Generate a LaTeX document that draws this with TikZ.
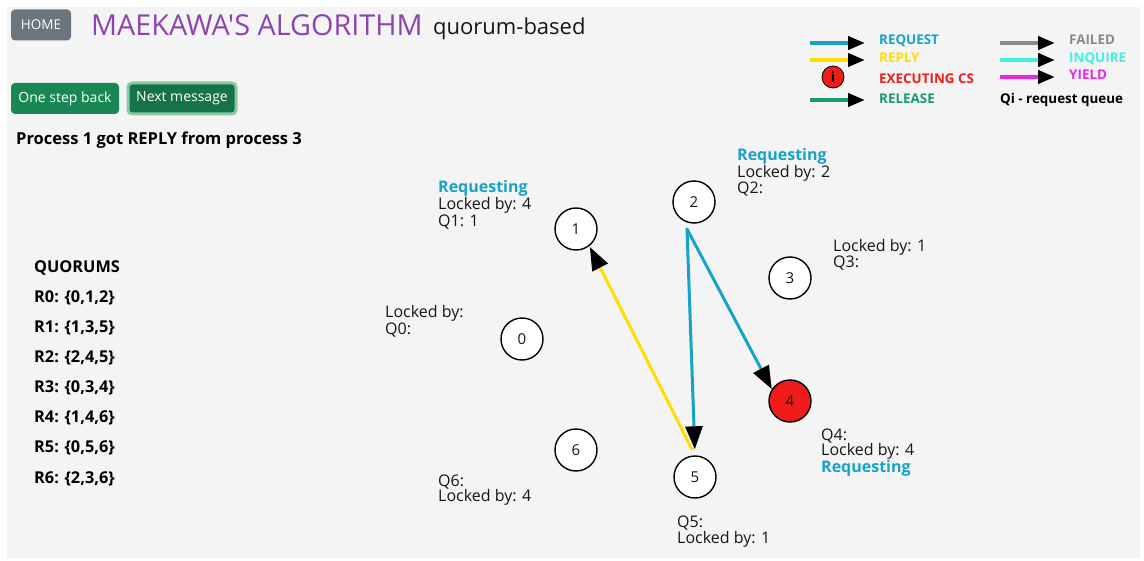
\documentclass[tikz,border=0pt]{standalone}
\usepackage{fontspec}
\setmainfont{Open Sans}
\newfontfamily\titlefont{Open Sans}[Ligatures=TeXOff]
\usetikzlibrary{arrows.meta,calc}

\definecolor{panel}{RGB}{244,244,244}
\definecolor{ink}{RGB}{22,22,22}
\definecolor{titlepurple}{RGB}{142,68,173}
\definecolor{homegray}{RGB}{108,117,125}
\definecolor{btngreen}{RGB}{25,135,84}
\definecolor{btndark}{RGB}{21,115,71}
\definecolor{btnring}{RGB}{140,200,168}
\definecolor{reqblue}{RGB}{23,162,200}
\definecolor{replyyellow}{RGB}{255,221,0}
\definecolor{csred}{RGB}{240,28,28}
\definecolor{relgreen}{RGB}{26,154,104}
\definecolor{failgray}{RGB}{138,138,138}
\definecolor{inqcyan}{RGB}{64,240,224}
\definecolor{yieldmag}{RGB}{230,40,230}

\newcommand{\reqtxt}{\textcolor{reqblue}{\bfseries Requesting}}

\tikzset{
  proc/.style={circle, draw=black, line width=1.4pt, fill=white,
    minimum size=42pt, inner sep=0pt, text=ink, font=\fontsize{15}{15}\selectfont},
  info/.style={anchor=base west, inner sep=0pt, text=ink,
    font=\fontsize{16}{15}\selectfont},
  quorum/.style={anchor=base west, inner sep=0pt, text=black,
    font=\fontsize{16.3}{16}\selectfont\bfseries},
  btn/.style={rounded corners=4pt, text=white, inner sep=0pt,
    minimum height=31pt, font=\fontsize{14}{14}\selectfont},
  msg/.style={line width=3pt, -{Triangle[length=23pt,width=17pt,color=black]}},
  legarrow/.style={line width=4pt, -{Triangle[length=17pt,width=13pt,color=black]}},
  legtext/.style={anchor=base west, inner sep=0pt,
    font=\fontsize{13.4}{13}\selectfont\bfseries},
}

\begin{document}
\begin{tikzpicture}[x=1pt,y=-1pt]
\useasboundingbox (0,0) rectangle (1144,561);
\fill[white] (0,0) rectangle (1144,561);
\fill[panel] (7,7) rectangle (1140,558);

% header
\node[btn, fill=homegray, minimum width=60pt, font=\fontsize{13.5}{13}\selectfont]
  (home) at (41,25) {HOME};
\node[anchor=base west, inner sep=0pt, text=titlepurple, font=\titlefont\fontsize{28.8}{29}\selectfont]
  (title) at (91,36) {MAEKAWA'S ALGORITHM};
\node[anchor=base west, inner sep=0pt, text=ink, font=\fontsize{22}{22}\selectfont]
  (subtitle) at (433,35) {quorum-based};

% control buttons
\node[btn, fill=btngreen, minimum width=108pt] (back) at (65,98.5) {One step back};
\node[btn, fill=btndark, draw=btnring, line width=3pt, minimum width=108pt]
  (next) at (182,98.5) {Next message};

\node[anchor=base west, inner sep=0pt, text=black, font=\fontsize{16.5}{16}\selectfont\bfseries]
  (status) at (16,145) {Process 1 got REPLY from process 3};

% quorum list
\node[quorum] (qh) at (34,273) {QUORUMS};
\node[quorum] (r0) at (34,303) {R0: \{0,1,2\}};
\node[quorum] (r1) at (34,333) {R1: \{1,3,5\}};
\node[quorum] (r2) at (34,363) {R2: \{2,4,5\}};
\node[quorum] (r3) at (34,393) {R3: \{0,3,4\}};
\node[quorum] (r4) at (34,423) {R4: \{1,4,6\}};
\node[quorum] (r5) at (34,453) {R5: \{0,5,6\}};
\node[quorum] (r6) at (34,483) {R6: \{2,3,6\}};

% legend
\coordinate (la1) at (810,43);  \coordinate (lb1) at (865,43);
\coordinate (la2) at (810,60);  \coordinate (lb2) at (865,60);
\coordinate (la4) at (810,100); \coordinate (lb4) at (865,100);
\coordinate (lc1) at (1000,43); \coordinate (ld1) at (1055,43);
\coordinate (lc2) at (1000,60); \coordinate (ld2) at (1055,60);
\coordinate (lc3) at (1000,77); \coordinate (ld3) at (1055,77);
\draw[legarrow, reqblue]     (la1) -- (lb1);
\draw[legarrow, replyyellow] (la2) -- (lb2);
\draw[legarrow, relgreen]    (la4) -- (lb4);
\draw[legarrow, failgray]    (lc1) -- (ld1);
\draw[legarrow, inqcyan]     (lc2) -- (ld2);
\draw[legarrow, yieldmag]    (lc3) -- (ld3);
\node[circle, fill=csred, draw=black, line width=0.8pt, minimum size=22pt, inner sep=0pt,
  font=\fontsize{14}{14}\selectfont\bfseries] (lcs) at (833,77) {i};
\node[legtext, text=reqblue]     (t1) at (879,45) {REQUEST};
\node[legtext, text=replyyellow] (t2) at (879,62.3) {REPLY};
\node[legtext, text=csred]       (t3) at (879,83.3) {EXECUTING CS};
\node[legtext, text=relgreen]    (t4) at (879,103.3) {RELEASE};
\node[legtext, text=failgray]    (t5) at (1069,45) {FAILED};
\node[legtext, text=inqcyan]     (t6) at (1069,62.3) {INQUIRE};
\node[legtext, text=yieldmag]    (t7) at (1069,79.3) {YIELD};
\node[legtext, text=black]       (t8) at (1000,103.3) {Qi - request queue};

% processes
\node[proc] (n0) at (522,339) {0};
\node[proc] (n1) at (576,229) {1};
\node[proc] (n2) at (694,202) {2};
\node[proc] (n3) at (790,278) {3};
\node[proc, fill=csred] (n4) at (790,401) {4};
\node[proc] (n5) at (695,477) {5};
\node[proc] (n6) at (576,450) {6};

% process state labels
\node[info] (i1) at (438,193)
  {\vtop{\baselineskip=15pt\hbox{\reqtxt}\hbox{Locked by: 4}\hbox{Q1: 1}}};
\node[info] (i2) at (737,160.5)
  {\vtop{\baselineskip=14.7pt\hbox{\reqtxt}\hbox{Locked by: 2}\hbox{Q2:}}};
\node[info] (i3) at (833,251.5)
  {\vtop{\baselineskip=14.7pt\hbox{Locked by: 1}\hbox{Q3:}}};
\node[info] (i0) at (385,318)
  {\vtop{\baselineskip=14.7pt\hbox{Locked by:}\hbox{Q0:}}};
\node[info] (i4) at (821,440)
  {\vtop{\baselineskip=14.7pt\hbox{Q4:}\hbox{Locked by: 4}\hbox{\reqtxt}}};
\node[info] (i5) at (677,527.5)
  {\vtop{\baselineskip=15.5pt\hbox{Q5:}\hbox{Locked by: 1}}};
\node[info] (i6) at (438,486)
  {\vtop{\baselineskip=15pt\hbox{Q6:}\hbox{Locked by: 4}}};

% messages in flight
\coordinate (s2) at (687,229);
\draw[msg, reqblue, line cap=round] (s2) -- (n4.147);
\draw[msg, reqblue, line cap=round, shorten >=6pt] (s2) -- (n5.north);
\draw[msg, replyyellow, shorten <=6pt, shorten >=1pt] (n5.north) -- (n1.-52);
\end{tikzpicture}
\end{document}
